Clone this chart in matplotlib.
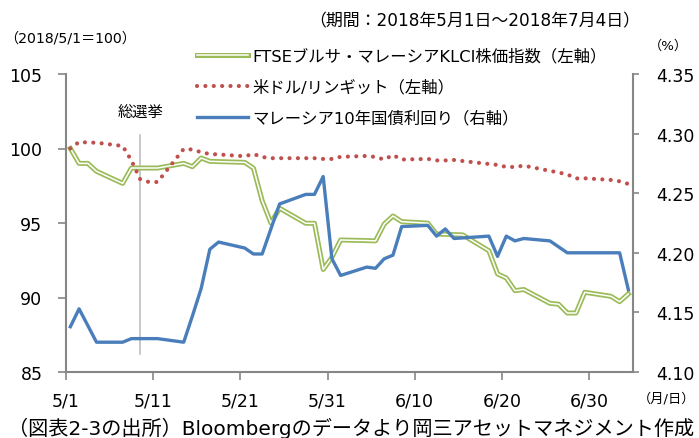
import matplotlib
matplotlib.use("Agg")
import matplotlib.pyplot as plt
from matplotlib.lines import Line2D

# 英数字は DejaVu Sans、日本語は Noto Sans CJK JP
plt.rcParams['font.family'] = ['DejaVu Sans', 'Noto Sans CJK JP']

# 日数は 2018/5/1 からの経過日数
klci_day = [0, 1, 2, 3, 6, 7, 10, 13, 14, 15, 16, 17, 20, 21, 22, 23, 24, 27, 28, 29,
            30, 31, 34, 35, 36, 37, 38, 41, 42, 45, 48, 49, 50, 51, 52, 55, 56, 57, 58,
            59, 62, 63, 64]
klci = [100.0, 99.0, 99.0, 98.47, 97.66, 98.69, 98.69, 99.0, 98.78, 99.36, 99.14, 99.12,
        99.07, 98.68, 96.5, 95.0, 95.99, 94.98, 94.98, 91.88, 92.7, 93.86, 93.82, 93.8,
        94.93, 95.47, 95.09, 94.99, 94.26, 94.2, 93.14, 91.58, 91.31, 90.46, 90.54, 89.61,
        89.55, 88.96, 88.96, 90.35, 90.08, 89.72, 90.24]

fx_day = [0, 1, 2, 3, 6, 7, 8, 9, 10, 13, 14, 15, 16, 17, 20, 21, 22, 23, 24, 27, 28, 29,
          30, 31, 34, 35, 36, 37, 38, 41, 42, 43, 44, 45, 48, 49, 50, 51, 52, 55, 56, 57,
          58, 59, 62, 63, 64]
usdmyr = [100.0, 100.44, 100.4, 100.39, 100.17, 99.2, 97.95, 97.75, 97.75, 99.97, 99.93,
          99.75, 99.63, 99.6, 99.48, 99.63, 99.43, 99.35, 99.35, 99.35, 99.35, 99.3, 99.3,
          99.44, 99.5, 99.43, 99.26, 99.56, 99.26, 99.3, 99.2, 99.2, 99.23, 99.16, 98.96,
          98.9, 98.76, 98.76, 98.85, 98.5, 98.39, 98.26, 97.99, 98.0, 97.89, 97.8, 97.62]

bond_day = [0, 1, 3, 6, 7, 10, 13, 14, 15, 16, 17, 20, 21, 22, 24, 27, 28, 29, 30, 31, 34,
            35, 36, 37, 38, 41, 42, 43, 44, 48, 49, 50, 51, 52, 55, 57, 63, 64]
bond_yield = [4.138, 4.153, 4.125, 4.125, 4.128, 4.128, 4.125, 4.147, 4.170, 4.203, 4.209,
              4.204, 4.199, 4.199, 4.241, 4.249, 4.249, 4.264, 4.195, 4.181, 4.188, 4.187,
              4.195, 4.198, 4.222, 4.223, 4.214, 4.220, 4.212, 4.214, 4.197, 4.214, 4.210,
              4.212, 4.210, 4.200, 4.200, 4.169]

tick_days = [0, 10, 20, 30, 40, 50, 60]
tick_labels = ["5/1", "5/11", "5/21", "5/31", "6/10", "6/20", "6/30"]
election_day = 8

labels = ["FTSEブルサ・マレーシアKLCI株価指数（左軸）",
          "米ドル/リンギット（左軸）",
          "マレーシア10年国債利回り（右軸）"]

GREEN = "#9BBB59"
RED = "#C0504D"
BLUE = "#4A7EBB"
GRAY = "#868686"

# Excel の「目盛の間」配置にあわせて半日ずらす
def mid(days):
    return [d + 0.5 for d in days]

fig = plt.figure(figsize=(6.99, 4.39), dpi=100)
ax = fig.add_axes([66 / 699, 1 - 373 / 439, (632.7 - 66) / 699, (373 - 75) / 439])
ax2 = ax.twinx()

# 総選挙の縦線
ax.plot([election_day + 0.5] * 2, [86.2, 100.9], color="#BFBFBF", lw=1.2, zorder=1)
ax.text(election_day + 0.5, 102.5, "総選挙", ha="center", va="center", fontsize=11)

ax.plot(mid(klci_day), klci, color=GREEN, lw=3.6, solid_joinstyle="round", zorder=2)
ax.plot(mid(klci_day), klci, color="white", lw=1.1, solid_joinstyle="round", zorder=3)
ax.plot(mid(fx_day), usdmyr, color=RED, lw=3, linestyle=(0, (0.01, 2)),
        dash_capstyle="round", zorder=3)
ax2.plot(mid(bond_day), bond_yield, color=BLUE, lw=2.4, solid_joinstyle="round")

ax.set_xlim(0, 65)
ax.set_ylim(85, 105)
ax2.set_ylim(4.10, 4.35)
ax.set_xticks(tick_days)
ax.set_xticklabels(tick_labels)
ax.set_yticks([85, 90, 95, 100, 105])
ax2.set_yticks([4.10, 4.15, 4.20, 4.25, 4.30, 4.35])
ax2.set_yticklabels([f"{v:.2f}" for v in [4.10, 4.15, 4.20, 4.25, 4.30, 4.35]])

for a in (ax, ax2):
    a.spines["top"].set_visible(False)
    for s in a.spines.values():
        s.set_color(GRAY)
        s.set_linewidth(1.5)
ax.spines["right"].set_visible(False)
ax2.spines["left"].set_visible(False)
ax2.spines["bottom"].set_visible(False)

ax.tick_params(axis="y", direction="out", length=6, width=1.2, color=GRAY, pad=11,
               labelsize=12.5)
ax.tick_params(axis="x", direction="out", length=6, width=1.2, color=GRAY, pad=8,
               labelsize=12.5)
ax2.tick_params(axis="y", direction="out", length=4, width=1.2, color=GRAY, pad=13,
                labelsize=12.5)

handles = [
    (Line2D([], [], color=GREEN, lw=3.6), Line2D([], [], color="white", lw=1.1)),
    Line2D([], [], color=RED, lw=3, linestyle=(0, (0.01, 2)), dash_capstyle="round"),
    Line2D([], [], color=BLUE, lw=2.4),
]
fig.legend(handles, labels, loc="upper left", bbox_to_anchor=(197 / 699, 1 - 49 / 439),
           bbox_transform=fig.transFigure, frameon=False, borderpad=0, borderaxespad=0,
           handlelength=3.1, handletextpad=0.3, labelspacing=0.93, fontsize=11.8)

fig.text(640 / 699, 1 - 21 / 439, "（期間：2018年5月1日～2018年7月4日）", ha="right",
         va="center", fontsize=12.2)
fig.text(4 / 699, 1 - 38 / 439, "（2018/5/1＝100）", ha="left", va="center", fontsize=10.2)
fig.text(668 / 699, 1 - 46 / 439, "（%）", ha="center", va="center", fontsize=9.5)
fig.text(667 / 699, 1 - 399 / 439, "（月/日）", ha="center", va="center", fontsize=9.5)
fig.text(8 / 699, 1 - 428 / 439,
         "（図表2-3の出所）Bloombergのデータより岡三アセットマネジメント作成",
         ha="left", va="center", fontsize=14.5)

fig.savefig("out.png", dpi=100)
